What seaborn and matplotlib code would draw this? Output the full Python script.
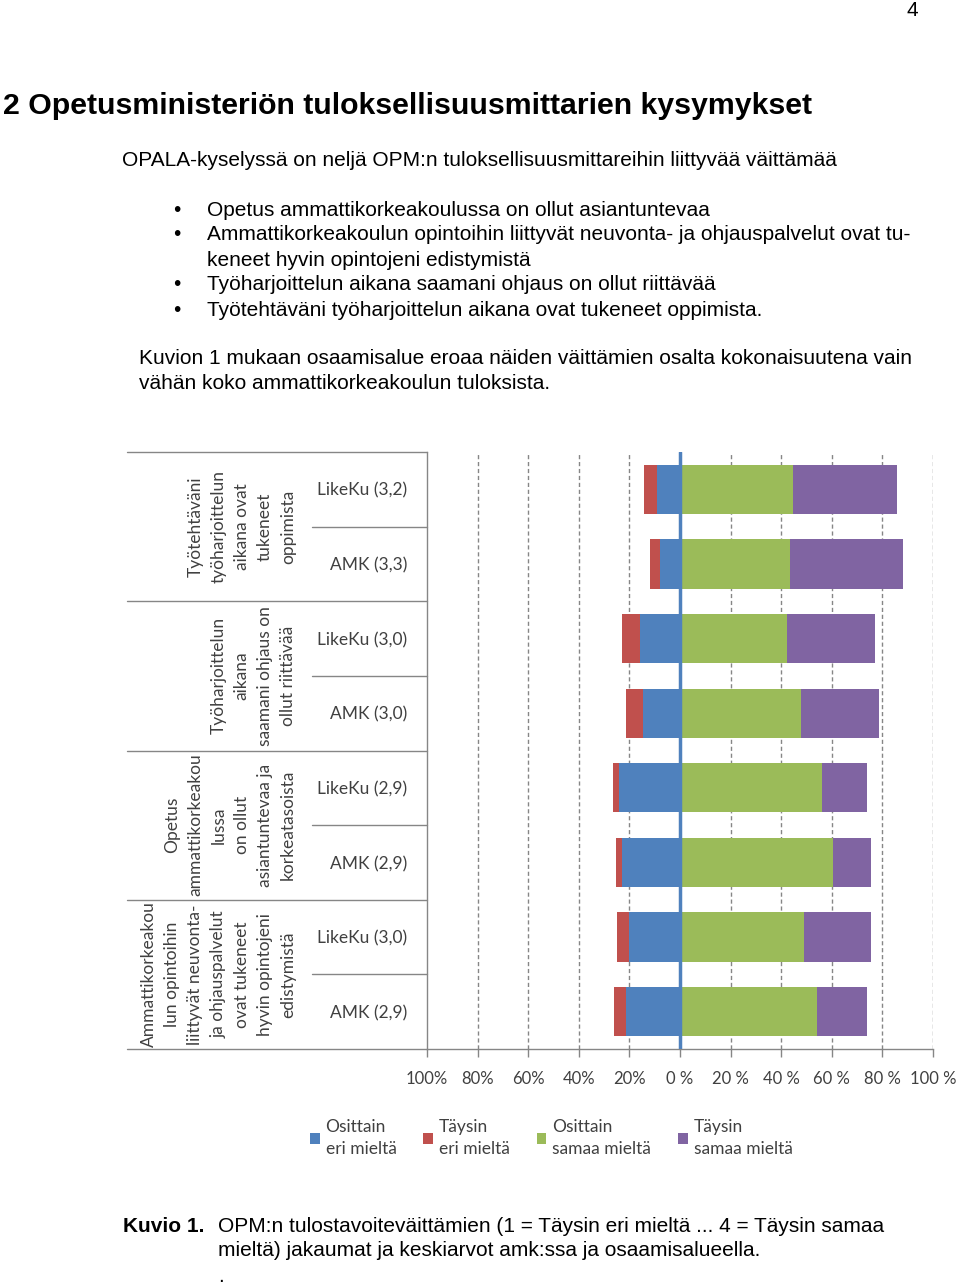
import matplotlib
matplotlib.use("Agg")
import matplotlib.pyplot as plt
import matplotlib.transforms as mtransforms
from matplotlib.lines import Line2D
from matplotlib.patches import Patch
import seaborn as sns
import pandas as pd

# --- Data (share of answers, %) ---
row_keys = ["r1", "r2", "r3", "r4", "r5", "r6", "r7", "r8"]
row_labels = ["LikeKu (3,2)", "AMK (3,3)", "LikeKu (3,0)", "AMK (3,0)",
              "LikeKu (2,9)", "AMK (2,9)", "LikeKu (3,0)", "AMK (2,9)"]
taysin_eri = [5.0, 4.1, 7.2, 6.9, 2.2, 2.4, 4.6, 4.5]
osittain_eri = [9.1, 7.8, 15.8, 14.5, 24.2, 23.0, 20.2, 21.4]
osittain_samaa = [44.5, 43.3, 42.2, 47.7, 56.1, 60.6, 48.9, 54.0]
taysin_samaa = [41.4, 44.8, 34.7, 30.8, 17.9, 14.7, 26.4, 20.0]

group_labels = [
    "Työtehtäväni\ntyöharjoittelun\naikana ovat\ntukeneet\noppimista",
    "Työharjoittelun\naikana\nsaamani ohjaus on\nollut riittävää",
    "Opetus\nammattikorkeakou\nlussa\non ollut\nasiantuntevaa ja\nkorkeatasoista",
    "Ammattikorkeakou\nlun opintoihin\nliittyvät neuvonta-\nja ohjauspalvelut\novat tukeneet\nhyvin opintojeni\nedistymistä",
]
rows_per_group = 2

xticks = [-100, -80, -60, -40, -20, 0, 20, 40, 60, 80, 100]
xtick_labels = ["100%", "80%", "60%", "40%", "20%", "0 %",
                "20 %", "40 %", "60 %", "80 %", "100 %"]

legend_labels = ["Osittain\neri mieltä", "Täysin\neri mieltä",
                 "Osittain\nsamaa mieltä", "Täysin\nsamaa mieltä"]

BLUE, RED, GREEN, PURPLE = "#4F81BD", "#C0504D", "#9BBB59", "#8064A2"
GRAY = "#868686"
TXT = "#404040"
CHART_FONT = ["Lato", "DejaVu Sans"]
PAGE_FONT = ["Liberation Sans", "DejaVu Sans"]
BODY = 15

df = pd.DataFrame({
    "row": row_keys,
    "taysin_eri": taysin_eri,
    "osittain_eri": osittain_eri,
    "osittain_samaa": osittain_samaa,
    "taysin_samaa": taysin_samaa,
})
# cumulative ends so that inner segments can be drawn over outer ones
df["left_outer"] = -(df["osittain_eri"] + df["taysin_eri"])
df["left_inner"] = -df["osittain_eri"]
df["right_outer"] = df["osittain_samaa"] + df["taysin_samaa"]
df["right_inner"] = df["osittain_samaa"]

sns.set_style("white")
plt.rcParams["font.family"] = PAGE_FONT
plt.rcParams["text.color"] = "black"

W, H = 960, 1284
fig = plt.figure(figsize=(W / 100, H / 100), dpi=100)


def fx(px):
    return px / W


def fy(py):
    return 1 - py / H


# --- page text ---
fig.text(fx(912), fy(10), "4", fontsize=BODY, ha="center", va="center")
fig.text(fx(3), fy(106), "2 Opetusministeriön tuloksellisuusmittarien kysymykset",
         fontsize=21.8, fontweight="bold", va="center")
fig.text(fx(122), fy(160),
         "OPALA-kyselyssä on neljä OPM:n tuloksellisuusmittareihin liittyvää väittämää",
         fontsize=BODY, va="center")
bullet_lines = [
    (True, "Opetus ammattikorkeakoulussa on ollut asiantuntevaa"),
    (True, "Ammattikorkeakoulun opintoihin liittyvät neuvonta- ja ohjauspalvelut ovat tu-"),
    (False, "keneet hyvin opintojeni edistymistä"),
    (True, "Työharjoittelun aikana saamani ohjaus on ollut riittävää"),
    (True, "Työtehtäväni työharjoittelun aikana ovat tukeneet oppimista."),
]
for i, (has_bullet, line) in enumerate(bullet_lines):
    yy = 210 + 25 * i
    if has_bullet:
        fig.text(fx(177), fy(yy), "•", fontsize=BODY, ha="center", va="center")
    fig.text(fx(207), fy(yy), line, fontsize=BODY, va="center")
fig.text(fx(139), fy(358),
         "Kuvion 1 mukaan osaamisalue eroaa näiden väittämien osalta kokonaisuutena vain",
         fontsize=BODY, va="center")
fig.text(fx(139), fy(383), "vähän koko ammattikorkeakoulun tuloksista.",
         fontsize=BODY, va="center")

fig.text(fx(123), fy(1227), "Kuvio 1.", fontsize=BODY, fontweight="bold", va="center")
fig.text(fx(218), fy(1227),
         "OPM:n tulostavoiteväittämien (1 = Täysin eri mieltä ... 4 = Täysin samaa",
         fontsize=BODY, va="center")
fig.text(fx(218), fy(1251), "mieltä) jakaumat ja keskiarvot amk:ssa ja osaamisalueella.",
         fontsize=BODY, va="center")
fig.text(fx(218), fy(1277), ".", fontsize=BODY, va="center")

# --- chart ---
ax = fig.add_axes([fx(427), fy(1049), fx(933) - fx(427), (1049 - 452) / H])
bar_kw = dict(orient="h", order=row_keys, width=0.66, saturation=1,
              linewidth=0, ax=ax, zorder=3)
sns.barplot(data=df, x="left_outer", y="row", color=RED, **bar_kw)
sns.barplot(data=df, x="left_inner", y="row", color=BLUE, **bar_kw)
sns.barplot(data=df, x="right_outer", y="row", color=PURPLE, **bar_kw)
sns.barplot(data=df, x="right_inner", y="row", color=GREEN, **bar_kw)

ax.set_xlim(-100, 100)
ax.set_ylim(len(row_keys) - 0.5, -0.5)
ax.set_xlabel("")
ax.set_ylabel("")

for xv in xticks:
    if xv == 0 or xv == -100:
        continue
    ax.axvline(xv, color=GRAY, lw=1, ls=(0, (3, 2)), zorder=1)
ax.axvline(0, color=BLUE, lw=2.5, zorder=4)

ax.set_xticks(xticks)
ax.set_xticklabels(xtick_labels, fontfamily=CHART_FONT, fontsize=12, color=TXT)
ax.tick_params(axis="x", length=6, width=1, color=GRAY, direction="out", pad=10,
               bottom=True)
ax.set_yticks(range(len(row_keys)))
ax.set_yticklabels(row_labels, fontfamily=CHART_FONT, fontsize=12.5, color=TXT)
ax.tick_params(axis="y", length=0, pad=14)

for side in ["top", "right"]:
    ax.spines[side].set_visible(False)
for side in ["left", "bottom"]:
    ax.spines[side].set_color(GRAY)
    ax.spines[side].set_linewidth(1)

# multi-level category axis on the left
trans = mtransforms.blended_transform_factory(fig.transFigure, ax.transData)
n_groups = len(group_labels)
for g in range(n_groups + 1):
    yb = g * rows_per_group - 0.5
    fig.add_artist(Line2D([fx(127), fx(427)], [yb, yb], transform=trans,
                          color=GRAY, lw=1))
for g in range(n_groups):
    yb = g * rows_per_group + 0.5
    fig.add_artist(Line2D([fx(312), fx(427)], [yb, yb], transform=trans,
                          color=GRAY, lw=1))
    yc = g * rows_per_group + (rows_per_group - 1) / 2
    fig.text(fx(296), yc, group_labels[g], transform=trans, rotation=90,
             ha="right", va="center", multialignment="center",
             fontfamily=CHART_FONT, fontsize=12.5, color=TXT, linespacing=1.55)

# legend
handles = [Patch(facecolor=c, edgecolor="none") for c in [BLUE, RED, GREEN, PURPLE]]
leg = fig.legend(handles, legend_labels, loc="upper left",
                 bbox_to_anchor=(fx(310), fy(1119)), ncol=4, frameon=False,
                 handlelength=0.55, handleheight=0.55, handletextpad=0.35,
                 columnspacing=1.55, borderpad=0, borderaxespad=0,
                 prop={"family": CHART_FONT, "size": 12.5}, labelcolor=TXT)
for t in leg.get_texts():
    t.set_linespacing(1.45)

fig.savefig("out.png", dpi=100, facecolor="white")
